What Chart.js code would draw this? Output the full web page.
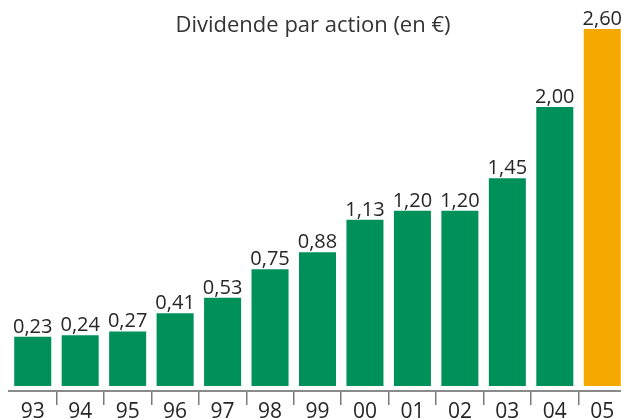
<!DOCTYPE html>
<html>
<head>
<meta charset="utf-8">
<script src="https://cdn.jsdelivr.net/npm/chart.js@4.4.1/dist/chart.umd.min.js"></script>
<style>
    body { margin: 0; overflow: hidden; background: #ffffff; }
    #chart1 { display: block; }
</style>
</head>
<body>
<canvas id="chart1" width="630" height="419"></canvas>
<script>
// Data
const titleHeader = "Dividende par action (en €)";
const years = ['93', '94', '95', '96', '97', '98', '99', '00', '01', '02', '03', '04', '05'];
const dividends = [0.23, 0.24, 0.27, 0.41, 0.53, 0.75, 0.88, 1.13, 1.20, 1.20, 1.45, 2.00, 2.60];

const green = '#00905a';
const orange = '#f5a900';
const textColor = '#262626';
const fontName = "'Open Sans', 'DejaVu Sans', sans-serif";

// value labels above each bar, french decimal comma
const valueLabels = {
    id: 'valueLabels',
    afterDatasetsDraw(chart) {
        const ctx = chart.ctx;
        const meta = chart.getDatasetMeta(0);
        ctx.save();
        ctx.font = "20px " + fontName;
        ctx.fillStyle = textColor;
        ctx.textAlign = 'center';
        ctx.textBaseline = 'alphabetic';
        meta.data.forEach(function (bar, i) {
            let txt = dividends[i].toFixed(2).replace('.', ',');
            ctx.fillText(txt, bar.x, bar.y - 4);
        });
        ctx.restore();
    }
};

// title drawn over the plot so it takes no layout room
const topTitle = {
    id: 'topTitle',
    afterDraw(chart) {
        const ctx = chart.ctx;
        ctx.save();
        ctx.font = "22px " + fontName;
        ctx.fillStyle = '#333333';
        ctx.textAlign = 'center';
        ctx.textBaseline = 'alphabetic';
        ctx.fillText(titleHeader, 313, 32);
        ctx.restore();
    }
};

const ctx = document.getElementById('chart1').getContext('2d');
const chart = new Chart(ctx, {
    type: 'bar',
    data: {
        labels: years,
        datasets: [{
            data: dividends,
            base: -0.15,
            backgroundColor: dividends.map((v, i) => i === dividends.length - 1 ? orange : green),
            borderWidth: 0,
            barPercentage: 0.78,
            categoryPercentage: 1.0,
            clip: false
        }]
    },
    options: {
        responsive: false,
        animation: false,
        devicePixelRatio: 1,
        layout: {
            padding: { left: 9, right: 4, top: 0, bottom: 0 }
        },
        plugins: {
            legend: { display: false },
            title: { display: false },
            tooltip: { enabled: false }
        },
        scales: {
            x: {
                offset: true,
                grid: {
                    offset: true,
                    drawOnChartArea: false,
                    drawTicks: true,
                    tickLength: 14,
                    lineWidth: 1.5,
                    color: (c) => (c.index === 0 || c.index === undefined) ? 'rgba(0,0,0,0)' : '#7a7a7a'
                },
                border: {
                    display: true,
                    color: '#8a8a8a',
                    width: 2
                },
                ticks: {
                    color: textColor,
                    padding: -5.6,
                    maxRotation: 0,
                    autoSkip: false,
                    font: { family: fontName, size: 21 }
                }
            },
            y: {
                display: false,
                min: -0.1885,
                max: 2.8234
            }
        }
    },
    plugins: [valueLabels, topTitle]
});
</script>
</body>
</html>
